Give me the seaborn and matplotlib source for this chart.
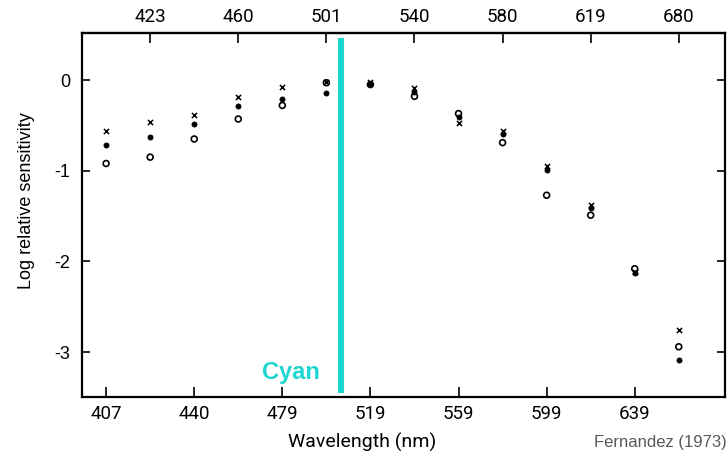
import numpy as np
import pandas as pd
import matplotlib
matplotlib.use("Agg")
import matplotlib.pyplot as plt
import seaborn as sns

# stimulus wavelengths (nm), plotted at evenly spaced positions
wavelengths = [407, 423, 440, 460, 479, 501, 519, 540, 559, 580, 599, 619, 639, 680]
bottom_labels = [407, 440, 479, 519, 559, 599, 639]
top_labels = [423, 460, 501, 540, 580, 619, 680]

# log relative sensitivity, three symbol series
cross_vals = [-0.56, -0.46, -0.39, -0.19, -0.08, -0.02, -0.02, -0.09, -0.47, -0.56, -0.95, -1.38, -2.12, -2.75]
dot_vals = [-0.72, -0.63, -0.49, -0.29, -0.21, -0.14, -0.04, -0.13, -0.41, -0.60, -0.99, -1.41, -2.13, -3.09]
open_vals = [-0.92, -0.85, -0.65, -0.43, -0.28, -0.03, -0.05, -0.18, -0.37, -0.69, -1.27, -1.49, -2.08, -2.94]

cyan_nm = 507

sns.set_theme(style="white")
plt.rcParams["font.family"] = ["Liberation Sans", "DejaVu Sans"]
plt.rcParams["axes.unicode_minus"] = False
plt.rcParams["text.color"] = "black"
plt.rcParams["xtick.color"] = "black"
plt.rcParams["ytick.color"] = "black"
plt.rcParams["axes.labelcolor"] = "black"

pos = np.arange(len(wavelengths))
df = pd.DataFrame({"pos": pos, "cross": cross_vals, "dot": dot_vals, "open": open_vals})

fig = plt.figure(figsize=(7.27, 4.61), dpi=100)
ax = fig.add_axes([0.1124, 0.1395, 0.8849, 0.7883])

sns.scatterplot(data=df, x="pos", y="cross", marker="x", s=14, color="black",
                linewidth=1.1, ax=ax)
sns.scatterplot(data=df, x="pos", y="dot", marker="o", s=14, color="black",
                edgecolor="black", linewidth=0.5, ax=ax)
sns.scatterplot(data=df, x="pos", y="open", marker="o", s=18, facecolor="none",
                edgecolor="black", linewidth=1.2, ax=ax)

ax.set_xlim(-0.554, 14.05)
ax.set_ylim(-3.49, 0.515)

# cyan marker line
cyan_x = np.interp(cyan_nm, wavelengths, pos)
ax.axvline(cyan_x, ymin=0.01, ymax=0.987, color="#1dd6cf", lw=4.4,
           solid_capstyle="butt")
ax.text(cyan_x - 0.48, -3.30, "Cyan", color="#1dd6cf", fontsize=17,
        fontweight="bold", ha="right", va="baseline")

narrow = ["Roboto", "DejaVu Sans"]
bottom_pos = [wavelengths.index(w) for w in bottom_labels]
top_pos = [wavelengths.index(w) for w in top_labels]
ax.set_xticks(bottom_pos)
ax.set_xticklabels([str(w) for w in bottom_labels], family=narrow, fontsize=13.5)
ax.set_yticks([0, -1, -2, -3])
ax.set_yticklabels(["0", "-1", "-2", "-3"], fontsize=13)

secax = ax.secondary_xaxis("top")
secax.set_xticks(top_pos)
secax.set_xticklabels([str(w) for w in top_labels], family=narrow, fontsize=13.5)
secax.tick_params(direction="in", length=7, width=1.2, pad=5, colors="black")

ax.tick_params(axis="x", direction="in", length=7, width=1.2, pad=6, bottom=True)
ax.tick_params(axis="y", direction="in", length=6, width=1.2, pad=8, left=True,
               right=True)

for side in ["left", "right", "top", "bottom"]:
    ax.spines[side].set_color("black")
    ax.spines[side].set_linewidth(1.6)
secax.spines["top"].set_linewidth(1.6)

ax.set_xlabel("Wavelength (nm)", family=narrow, fontsize=14)
ax.xaxis.set_label_coords(0.436, -0.1)
ax.set_ylabel("Log relative sensitivity", fontsize=13)
ax.yaxis.set_label_coords(-0.073, 0.54)

fig.text(0.999, 0.04, "Fernandez (1973)", color="#595959", fontsize=12,
         ha="right", va="center")

plt.savefig("out.png", dpi=100)
